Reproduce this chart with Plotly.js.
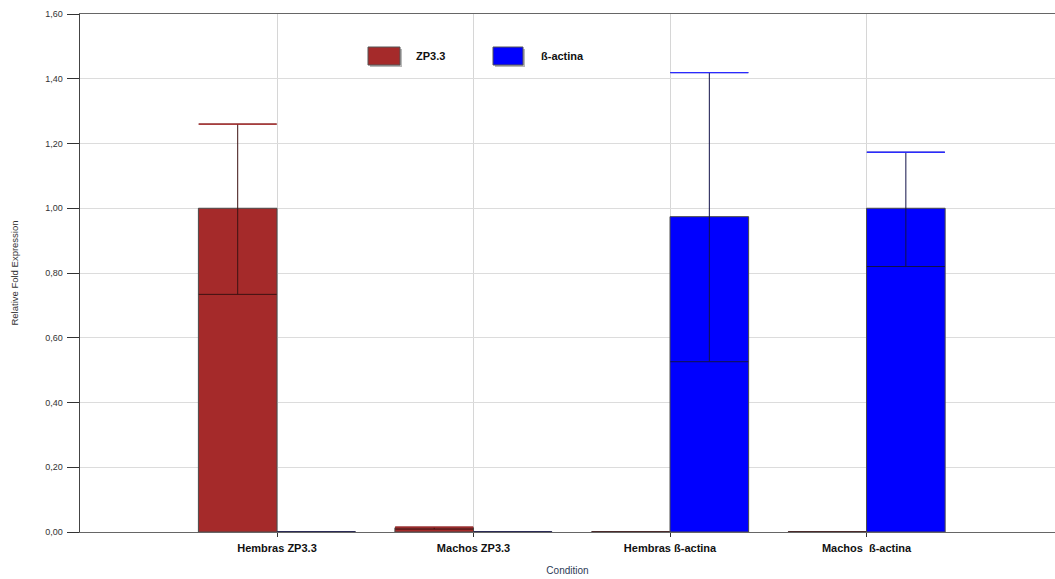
<!DOCTYPE html>
<html>
<head>
<meta charset="utf-8">
<script src="https://cdn.plot.ly/plotly-3.0.1.min.js"></script>
<style>html,body{margin:0;padding:0;background:#fff;}#chart{width:1055px;height:579px;}</style>
</head>
<body>
<div id="chart"></div>
<script>
const categories = ['Hembras ZP3.3', 'Machos ZP3.3', 'Hembras ß-actina', 'Machos\u00a0 ß-actina'];
const seriesNames = ['ZP3.3', 'ß-actina'];
const zp33Values = [1.00, 0.013, 0, 0];
const zp33ErrUp = [0.26, 0.002, 0, 0];
const zp33ErrDown = [0.266, 0.004, 0, 0];
const actinaValues = [0, 0, 0.974, 1.00];
const actinaErrUp = [0, 0, 0.445, 0.173];
const actinaErrDown = [0, 0, 0.448, 0.18];
const yTicks = [0, 0.2, 0.4, 0.6, 0.8, 1.0, 1.2, 1.4, 1.6];

const L = 80, T = 14, W = 975, H = 518;
function px(x){ return (x - L) / W; }
function py(y){ return (532 - y) / H; }

function barPair(vals, up, down, name, fill, dark, cap, offset){
  const main = {
    type: 'bar', name: name, x: categories, y: vals,
    offset: offset, width: 0.4,
    marker: {color: fill, line: {color: '#4a4a4a', width: 1}},
    error_y: {type: 'data', symmetric: false, array: up, arrayminus: down,
              color: dark, thickness: 1, width: 39},
    showlegend: false, hoverinfo: 'x+y+name'
  };
  const tops = vals.map((v, i) => up[i] > 0 ? v + up[i] : null);
  const caps = {
    type: 'bar', name: name + ' cap', x: categories, y: tops,
    offset: offset, width: 0.4,
    marker: {color: 'rgba(0,0,0,0)', line: {width: 0}},
    error_y: {type: 'data', array: tops.map(() => 0), color: cap, thickness: 1.3, width: 39},
    showlegend: false, hoverinfo: 'skip'
  };
  return [main, caps];
}

const traces = [
  ...barPair(zp33Values, zp33ErrUp, zp33ErrDown, seriesNames[0], '#A52A2A', '#3d1212', '#b02a2a', -0.4),
  ...barPair(actinaValues, actinaErrUp, actinaErrDown, seriesNames[1], '#0000FF', '#12124a', '#2a2aff', 0)
];

const layout = {
  width: 1055, height: 579,
  margin: {l: L, r: 0, t: T, b: 47},
  paper_bgcolor: '#ffffff', plot_bgcolor: '#ffffff',
  separators: ',.',
  barmode: 'overlay',
  showlegend: false,
  font: {family: 'Liberation Sans, Arial, sans-serif', color: '#333'},
  xaxis: {
    type: 'category', range: [-1.0025, 3.959],
    showgrid: true, gridcolor: '#d6d6d6', gridwidth: 1,
    showline: true, linecolor: '#666', linewidth: 1.3, mirror: true,
    ticks: 'outside', ticklen: 4, tickcolor: '#333',
    tickfont: {family: 'Liberation Sans, Arial, sans-serif', size: 11, color: '#111', weight: 'bold'},
    ticklabelstandoff: 1,
    title: {text: 'Condition', font: {size: 10, color: '#2b3a55'}, standoff: 14},
    zeroline: false, fixedrange: true
  },
  yaxis: {
    range: [0, 1.6], tickvals: yTicks, tickformat: '.2f',
    showgrid: true, gridcolor: '#dcdcdc', gridwidth: 1,
    showline: true, linecolor: '#444', linewidth: 1.3,
    ticks: 'outside', ticklen: 12, tickcolor: '#333',
    tickfont: {size: 9, color: '#333'},
    ticklabelstandoff: 2,
    title: {text: 'Relative Fold Expression', font: {size: 9.5, color: '#333'}, standoff: 25},
    zeroline: false, fixedrange: true
  },
  shapes: [
    {type: 'rect', xref: 'paper', yref: 'paper', x0: px(370), x1: px(402), y0: py(67), y1: py(49), fillcolor: '#b8b8b8', line: {width: 0}},
    {type: 'rect', xref: 'paper', yref: 'paper', x0: px(368), x1: px(400), y0: py(65), y1: py(47), fillcolor: '#A52A2A', line: {color: '#555', width: 1}},
    {type: 'rect', xref: 'paper', yref: 'paper', x0: px(495), x1: px(525), y0: py(67), y1: py(49), fillcolor: '#b8b8b8', line: {width: 0}},
    {type: 'rect', xref: 'paper', yref: 'paper', x0: px(493), x1: px(523), y0: py(65), y1: py(47), fillcolor: '#0000FF', line: {color: '#555', width: 1}}
  ],
  annotations: [
    {xref: 'paper', yref: 'paper', x: px(414), y: py(56), xanchor: 'left', yanchor: 'middle', showarrow: false,
     text: '<b>' + seriesNames[0] + '</b>', font: {size: 11, color: '#111'}},
    {xref: 'paper', yref: 'paper', x: px(539), y: py(56), xanchor: 'left', yanchor: 'middle', showarrow: false,
     text: '<b>' + seriesNames[1] + '</b>', font: {size: 11, color: '#111'}}
  ]
};

Plotly.newPlot('chart', traces, layout, {staticPlot: true, displayModeBar: false});
</script>
</body>
</html>
